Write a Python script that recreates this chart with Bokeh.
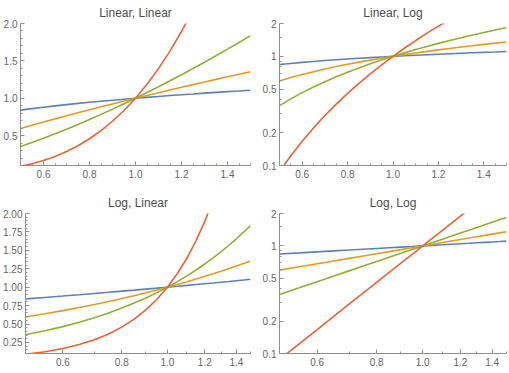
from bokeh.plotting import figure
from bokeh.layouts import column, row
from bokeh.models import Range1d, FixedTicker, NumeralTickFormatter, CustomJSTickFormatter
from bokeh.embed import file_html
from bokeh.resources import INLINE

# ---- data ----
x_vals = [0.50, 0.55, 0.60, 0.65, 0.70, 0.75, 0.80, 0.85, 0.90, 0.95, 1.00,
          1.05, 1.10, 1.15, 1.20, 1.25, 1.30, 1.35, 1.40, 1.45, 1.50]
blue_vals = [0.841, 0.861, 0.880, 0.898, 0.915, 0.931, 0.946, 0.960, 0.974, 0.987, 1.000,
             1.012, 1.024, 1.036, 1.047, 1.057, 1.068, 1.078, 1.088, 1.097, 1.107]
orange_vals = [0.595, 0.639, 0.682, 0.724, 0.765, 0.806, 0.846, 0.885, 0.924, 0.962, 1.000,
               1.037, 1.074, 1.111, 1.147, 1.182, 1.217, 1.252, 1.287, 1.321, 1.355]
green_vals = [0.354, 0.408, 0.465, 0.524, 0.586, 0.650, 0.716, 0.784, 0.854, 0.926, 1.000,
              1.076, 1.154, 1.233, 1.315, 1.398, 1.482, 1.569, 1.657, 1.746, 1.837]
red_vals = [0.088, 0.123, 0.167, 0.221, 0.287, 0.365, 0.458, 0.566, 0.692, 0.836, 1.000,
            1.186, 1.396, 1.631, 1.893, 2.184, 2.505, 2.859, 3.247, 3.671, 4.134]

series_values = [blue_vals, orange_vals, green_vals, red_vals]
series_colors = ["#5E81B5", "#E19C24", "#8FB032", "#EB6235"]

panel_titles = ["Linear, Linear", "Linear, Log", "Log, Linear", "Log, Log"]
panel_scales = [("linear", "linear"), ("linear", "log"), ("log", "linear"), ("log", "log")]

x_range_limits = (0.5, 1.5)
y_range_limits = (0.1, 2.0)

x_major_ticks = [0.6, 0.8, 1.0, 1.2, 1.4]
x_minor_ticks_lin = [0.5, 0.55, 0.65, 0.7, 0.75, 0.85, 0.9, 0.95, 1.05, 1.1, 1.15,
                     1.25, 1.3, 1.35, 1.45, 1.5]
x_minor_ticks_log = [0.5, 0.7, 0.9, 1.1, 1.3, 1.5]
y_major_ticks_lin = [0.5, 1.0, 1.5, 2.0]
y_minor_ticks_lin = [0.1, 0.2, 0.3, 0.4, 0.6, 0.7, 0.8, 0.9, 1.1, 1.2, 1.3, 1.4,
                     1.6, 1.7, 1.8, 1.9]
y_major_ticks_loglin = [0.25, 0.5, 0.75, 1.0, 1.25, 1.5, 1.75, 2.0]
y_minor_ticks_loglin = [0.1, 0.15, 0.2, 0.3, 0.35, 0.4, 0.45, 0.55, 0.6, 0.65, 0.7,
                        0.8, 0.85, 0.9, 0.95, 1.05, 1.1, 1.15, 1.2, 1.3, 1.35, 1.4,
                        1.45, 1.55, 1.6, 1.65, 1.7, 1.8, 1.85, 1.9, 1.95]
y_major_ticks_log = [0.1, 0.2, 0.5, 1, 2]
y_minor_ticks_log = [0.3, 0.4, 0.6, 0.7, 0.8, 0.9, 1.5]

AXIS_COLOR = "#8f8f8f"
LABEL_COLOR = "#666666"
TITLE_COLOR = "#4d4d4d"
FONT = "Liberation Sans"


def make_panel(idx, width, height, left, right, top, bottom):
    xt, yt = panel_scales[idx]
    p = figure(width=width, height=height, x_axis_type=xt, y_axis_type=yt,
               x_range=Range1d(*x_range_limits), y_range=Range1d(*y_range_limits),
               output_backend="svg", toolbar_location=None,
               min_border_left=left, min_border_right=right,
               min_border_top=top, min_border_bottom=bottom)
    p.title.text = panel_titles[idx]
    p.title.align = "center"
    p.title.text_font = FONT
    p.title.text_font_size = "12px"
    p.title.text_font_style = "normal"
    p.title.text_color = TITLE_COLOR
    p.title.standoff = 7
    p.outline_line_color = None
    p.xgrid.visible = False
    p.ygrid.visible = False
    p.background_fill_color = "white"
    p.border_fill_color = "white"

    for vals, col in zip(series_values, series_colors):
        p.line(x_vals, vals, line_color=col, line_width=1.6)

    # x axis
    if xt == "linear":
        p.xaxis.ticker = FixedTicker(ticks=x_major_ticks, minor_ticks=x_minor_ticks_lin)
    else:
        p.xaxis.ticker = FixedTicker(ticks=x_major_ticks, minor_ticks=x_minor_ticks_log)
    p.xaxis.formatter = NumeralTickFormatter(format="0.0")

    # y axis
    if yt == "log":
        p.yaxis.ticker = FixedTicker(ticks=y_major_ticks_log, minor_ticks=y_minor_ticks_log)
        p.yaxis.formatter = CustomJSTickFormatter(code="return String(tick);")
    elif xt == "log":
        p.yaxis.ticker = FixedTicker(ticks=y_major_ticks_loglin, minor_ticks=y_minor_ticks_loglin)
        p.yaxis.formatter = NumeralTickFormatter(format="0.00")
    else:
        p.yaxis.ticker = FixedTicker(ticks=y_major_ticks_lin, minor_ticks=y_minor_ticks_lin)
        p.yaxis.formatter = NumeralTickFormatter(format="0.0")

    for ax in (p.xaxis[0], p.yaxis[0]):
        ax.axis_line_color = AXIS_COLOR
        ax.axis_line_width = 1
        ax.major_tick_line_color = AXIS_COLOR
        ax.minor_tick_line_color = AXIS_COLOR
        ax.major_tick_in = 4
        ax.major_tick_out = 0
        ax.minor_tick_in = 2
        ax.minor_tick_out = 0
        ax.major_label_text_font = FONT
        ax.major_label_text_font_size = "10px"
        ax.major_label_text_color = LABEL_COLOR
    p.xaxis.major_label_standoff = 4
    p.yaxis.major_label_standoff = 3
    return p


p1 = make_panel(0, 259, 190, 0, 9, 0, 25)
p2 = make_panel(1, 250, 190, 0, 3, 0, 25)
p3 = make_panel(2, 259, 182, 0, 9, 0, 19)
p4 = make_panel(3, 250, 182, 0, 3, 0, 19)

layout = column(row(p1, p2), row(p3, p4))

with open("out.html", "w") as f:
    f.write(file_html(layout, INLINE))
